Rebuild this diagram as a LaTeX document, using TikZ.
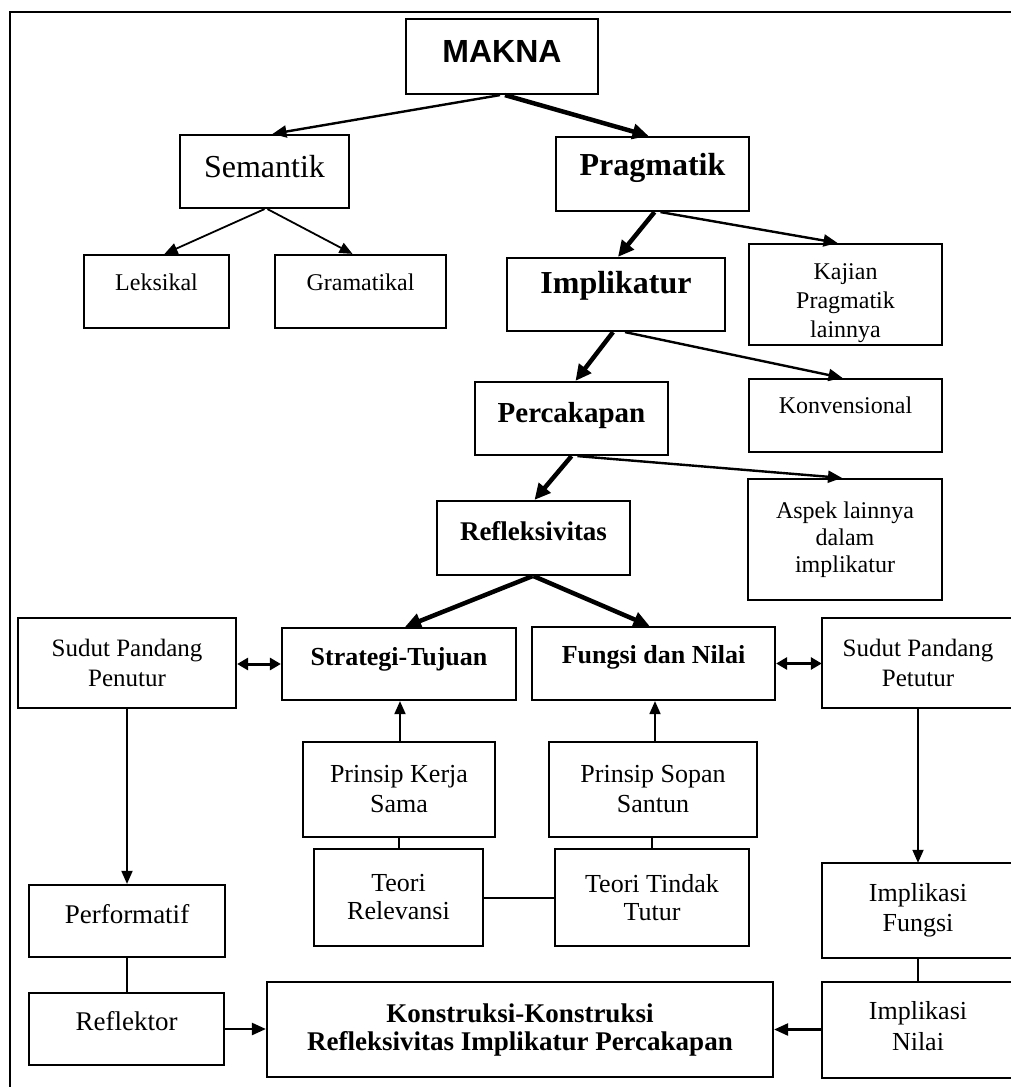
\documentclass[tikz,border=0pt]{standalone}
\usepackage{fontspec}
\setmainfont{Liberation Serif}
\newfontfamily\sansbold{Liberation Sans}
\usetikzlibrary{arrows.meta}
\newcommand\myfs[2]{\fontsize{#1}{#2}\selectfont}
\begin{document}
\begin{tikzpicture}[x=1pt,y=-1pt,
  box/.style={draw, line width=2.2pt, rectangle, inner sep=0pt, align=center},
  rbox/.style={rectangle, inner sep=0pt, align=center},
  boxline/.style={line width=2.2pt},
  bl/.style={text height=#1pt, text depth=0pt},
  bd/.style={text height=0pt, text depth=#1pt},
  thinarr/.style={line width=1.8pt, -{Triangle[length=13pt,width=11pt]}},
  medarr/.style={line width=2.4pt, -{Triangle[length=14pt,width=12pt]}},
  thickarr/.style={line width=4.5pt, -{Triangle[length=16pt,width=15pt]}},
  dblarr/.style={line width=3pt, {Triangle[length=11pt,width=12pt]}-{Triangle[length=11pt,width=12pt]}},
  plain/.style={line width=2pt}
]
\useasboundingbox (0,0) rectangle (1010,1087);
% frame
\coordinate (fr1) at (10,1090);
\coordinate (fr2) at (10,12);
\coordinate (fr3) at (1012,12);
\draw[line width=2.4pt] (fr1) -- (fr2) -- (fr3);

% nodes
\node[box, minimum width=192pt, minimum height=75pt, font=\sansbold\bfseries\myfs{32}{36}, bl=11] (makna) at (502,56.5) {MAKNA};
\node[box, minimum width=169pt, minimum height=73pt, font=\myfs{32}{36}, bl=11] (sem) at (264.5,171.5) {Semantik};
\node[box, minimum width=193pt, minimum height=74pt, font=\bfseries\myfs{32}{36}, bl=2] (prag) at (652.5,174) {Pragmatik};
\node[box, minimum width=145pt, minimum height=73pt, font=\myfs{24}{28}, bd=3] (leks) at (156.5,291.5) {Leksikal};
\node[box, minimum width=171pt, minimum height=73pt, font=\myfs{24}{28}, bd=3] (gram) at (360.5,291.5) {Gramatikal};
\node[box, minimum width=218pt, minimum height=73pt, font=\bfseries\myfs{32}{36}, bd=3] (impl) at (616,294.5) {Implikatur};
\node[box, minimum width=193pt, minimum height=101pt, font=\myfs{24}{29}] (kaj) at (845.5,294.5) {\rule{0pt}{33pt}Kajian\\Pragmatik\\lainnya};
\node[box, minimum width=193pt, minimum height=73pt, font=\bfseries\myfs{29}{33}, bl=7] (perc) at (571.5,418.5) {Percakapan};
\node[box, minimum width=193pt, minimum height=73pt, font=\myfs{24}{28}, bd=5] (konv) at (845.5,415.5) {Konvensional};
\node[box, minimum width=193pt, minimum height=74pt, font=\bfseries\myfs{27}{31}, bl=4] (refl) at (533.5,538) {Refleksivitas};
\node[box, minimum width=194pt, minimum height=121pt, font=\myfs{24}{27}] (aspek) at (845,539.5) {Aspek lainnya\\dalam\\implikatur};
\node[box, minimum width=218pt, minimum height=90pt, font=\myfs{25}{30}] (sudl) at (127,663) {Sudut Pandang\\Penutur};
\node[box, minimum width=234pt, minimum height=72pt, font=\bfseries\myfs{26}{30}, bl=2] (strat) at (399,664) {Strategi-Tujuan};
\node[box, minimum width=243pt, minimum height=73pt, font=\bfseries\myfs{26}{30}, bl=0] (fung) at (653.5,663.5) {Fungsi dan Nilai};
\node[rbox, minimum width=192pt, minimum height=90pt, font=\myfs{25}{30}] (sudr) at (918,663) {Sudut Pandang\\Petutur};
\node[box, minimum width=192pt, minimum height=95pt, font=\myfs{26}{30}] (pks) at (399,789.5) {Prinsip Kerja\\Sama};
\node[box, minimum width=208pt, minimum height=95pt, font=\myfs{26}{30}] (pss) at (653,789.5) {Prinsip Sopan\\Santun};
\node[box, minimum width=169pt, minimum height=97pt, font=\myfs{26}{28}] (trel) at (398.5,897.5) {Teori\\Relevansi};
\node[box, minimum width=194pt, minimum height=97pt, font=\myfs{26}{28}] (ttt) at (652,897.5) {Teori Tindak\\Tutur};
\node[box, minimum width=196pt, minimum height=72pt, font=\myfs{27}{31}, bl=4] (perf) at (127,921) {Performatif};
\node[box, minimum width=195pt, minimum height=72pt, font=\myfs{27}{31}, bl=2] (refk) at (126.5,1029) {Reflektor};
\node[rbox, minimum width=192pt, minimum height=95pt, font=\myfs{26}{30}] (ifung) at (918,910.5) {Implikasi\\Fungsi};
\node[rbox, minimum width=192pt, minimum height=96pt, font=\myfs{26}{31}] (inil) at (918,1030) {Implikasi\\Nilai\rule[-9pt]{0pt}{9pt}};
\node[box, minimum width=506pt, minimum height=95pt, font=\bfseries\myfs{27}{28}] (kons) at (520,1029.5) {Konstruksi-Konstruksi\\Refleksivitas Implikatur Percakapan};

% open-right boxes cut by the page edge
\draw[boxline] ([xshift=20]sudr.north east) -| (sudr.south west) -- ([xshift=20]sudr.south east);
\draw[boxline] ([xshift=20]ifung.north east) -| (ifung.south west) -- ([xshift=20]ifung.south east);
\draw[boxline] ([xshift=20]inil.north east) -| (inil.south west) -- ([xshift=20]inil.south east);

% connectors
\draw[medarr] ([xshift=-2]makna.south) -- ([xshift=8]sem.north);
\draw[thickarr] ([xshift=3]makna.south) -- ([xshift=-4]prag.north);
\draw[thinarr] (sem.south) -- ([xshift=8]leks.north);
\draw[thinarr] ([xshift=3]sem.south) -- ([xshift=-8]gram.north);
\draw[thickarr] ([xshift=2]prag.south) -- ([xshift=2]impl.north);
\draw[medarr] ([xshift=8]prag.south) -- ([xshift=-8]kaj.north);
\draw[thickarr] ([xshift=-3]impl.south) -- ([xshift=4]perc.north);
\draw[medarr] ([xshift=9]impl.south) -- ([xshift=-3]konv.north);
\draw[thickarr] ([xshift=0]perc.south) -- ([xshift=1]refl.north);
\draw[medarr] ([xshift=6]perc.south) -- ([xshift=-3]aspek.north);
\draw[thickarr] ([xshift=-1]refl.south) -- ([xshift=6]strat.north);
\draw[thickarr] (refl.south) -- ([xshift=-4]fung.north);
\draw[dblarr] (sudl.east |- strat.west) -- (strat.west);
\draw[dblarr] (fung.east) -- (sudr.west |- fung.east);
\draw[thinarr] ([xshift=1]pks.north) -- ([xshift=1]pks.north |- strat.south);
\draw[thinarr] ([xshift=2]pss.north) -- ([xshift=2]pss.north |- fung.south);
\draw[plain] (pks.south -| trel.north) -- (trel.north);
\draw[plain] (pss.south -| ttt.north) -- (ttt.north);
\draw[plain] (trel.east) -- (ttt.west);
\draw[thinarr] (sudl.south) -- (perf.north);
\draw[thinarr] (sudr.south) -- (ifung.north);
\draw[plain] (perf.south) -- (refk.north -| perf.south);
\draw[plain] (ifung.south) -- (inil.north);
\draw[medarr] (refk.east) -- (kons.west |- refk.east);
\draw[medarr] (inil.west |- kons.east) -- (kons.east);
\end{tikzpicture}
\end{document}
